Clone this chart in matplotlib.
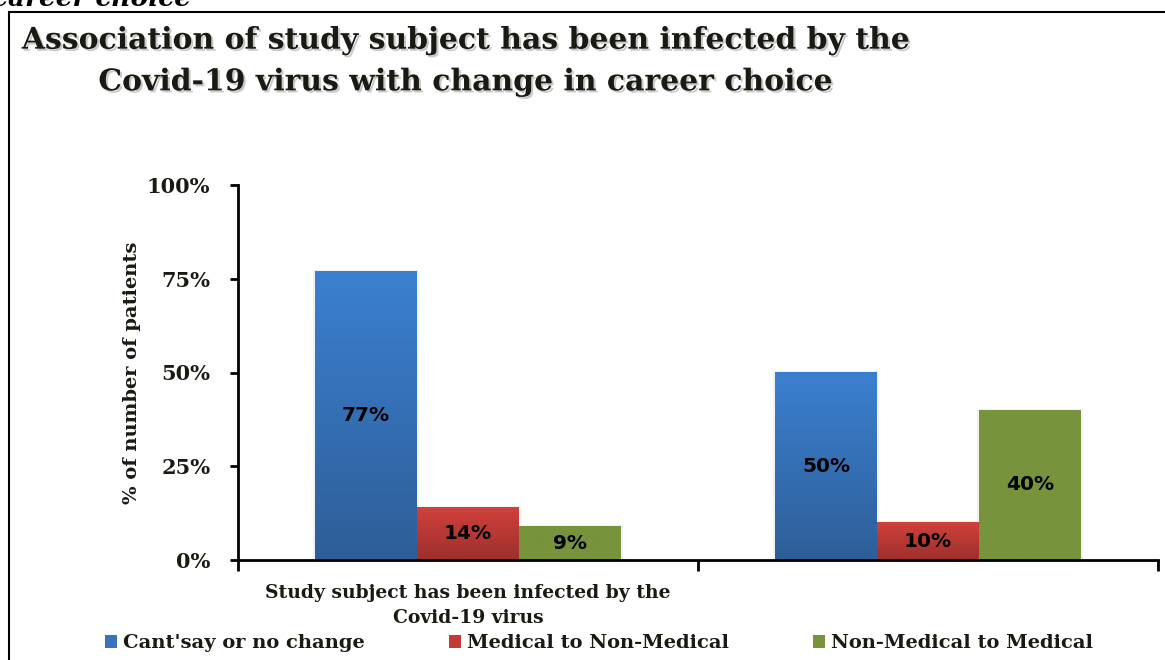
import matplotlib.pyplot as plt
import numpy as np
from matplotlib.patches import Patch, Rectangle
from matplotlib.colors import LinearSegmentedColormap
import matplotlib.patheffects as pe

categories = ['Study subject has been infected by the\nCovid-19 virus', '']
series = ["Cant'say or no change", 'Medical to Non-Medical', 'Non-Medical to Medical']
values = [
    [77, 50],
    [14, 10],
    [9, 40],
]
yticks = [0, 25, 50, 75, 100]
ytick_labels = ['0%', '25%', '50%', '75%', '100%']

# top / bottom colour of each series (gradient fill)
top_col = ['#3b80d0', '#d0413c', '#77933c']
bot_col = ['#2e5e98', '#9e2f2c', '#77933c']
legend_col = ['#3873bb', '#c23a35', '#77933c']

serif = 'DejaVu Serif'
ink = '#1a1a12'
W, H = 1165, 660
fig = plt.figure(figsize=(W / 100, H / 100), dpi=100, facecolor='w')

# outer frame of the chart area
fig.patches.append(Rectangle((9 / W, -0.1), 1.2, 1 - 12 / H + 0.1, transform=fig.transFigure,
                             fill=False, edgecolor='k', linewidth=1.5))
fig.text(-8 / W, 1 - 6 / H, 'career choice', fontsize=19, family=serif, style='italic',
         weight='bold', va='baseline', ha='left')

shadow = [pe.SimplePatchShadow(offset=(1.5, -1.5), alpha=0.3, shadow_rgbFace='0.3'), pe.Normal()]
fig.text(466 / W, 1 - 61 / H,
         'Association of study subject has been infected by the\nCovid-19 virus with change in career choice',
         fontsize=21.5, family=serif, weight='bold', ha='center', va='center',
         linespacing=1.55, color=ink, path_effects=shadow)

ax = fig.add_axes([238 / W, 1 - 560 / H, (1158 - 238) / W, 375 / H])
x = np.arange(len(categories))
width = 102 / 460

for i, name in enumerate(series):
    xs = x + (i - 1) * width
    for xc, v in zip(xs, values[i]):
        x0, x1 = xc - width / 2, xc + width / 2
        # faint shadow behind bar
        ax.add_patch(Rectangle((x0 - 0.005, 0), width + 0.01, v + 0.4, facecolor='0.9',
                               edgecolor='none', zorder=1, alpha=0.5))
        cmap = LinearSegmentedColormap.from_list('g', [bot_col[i], top_col[i]])
        grad = np.linspace(1, 0, 100).reshape(-1, 1)
        ax.imshow(grad, extent=[x0, x1, 0, v], aspect='auto', cmap=cmap, vmin=0, vmax=1,
                  zorder=2, interpolation='bilinear')
        ax.text(xc, v / 2, f'{v}%', ha='center', va='center', fontsize=14.5,
                weight='heavy', family='DejaVu Sans', color='k', zorder=3)

ax.set_xlim(-0.5, 1.5)
ax.set_ylim(0, 100)

ax.set_yticks(yticks)
ax.set_yticklabels(ytick_labels, family=serif, weight='bold', fontsize=15, color=ink)
ax.set_xticks([0])
ax.set_xticklabels([categories[0]], family=serif, weight='bold', fontsize=13.5,
                   color=ink, linespacing=1.55)
ax.set_xticks([-0.5, 0.5, 1.5], minor=True)
ax.tick_params(axis='x', which='major', length=0, pad=17)
ax.tick_params(axis='x', which='minor', length=8, width=2, direction='out')
ax.tick_params(axis='y', length=6, width=2, direction='out', pad=14)

for s in ['top', 'right']:
    ax.spines[s].set_visible(False)
ax.spines['left'].set_linewidth(2)
ax.spines['bottom'].set_linewidth(2)

ax.set_ylabel('% of number of patients', family=serif, weight='bold', fontsize=14,
              color=ink, labelpad=4)

handles = [Patch(facecolor=c, edgecolor='none') for c in legend_col]
fig.legend(handles, series, loc='center', bbox_to_anchor=(599 / W, 1 - 643 / H), ncol=3,
           frameon=False, prop={'family': serif, 'weight': 'bold', 'size': 14},
           handlelength=0.65, handleheight=0.65, handletextpad=0.3, columnspacing=4.3,
           labelcolor=ink)

plt.savefig('out.png', dpi=100)
